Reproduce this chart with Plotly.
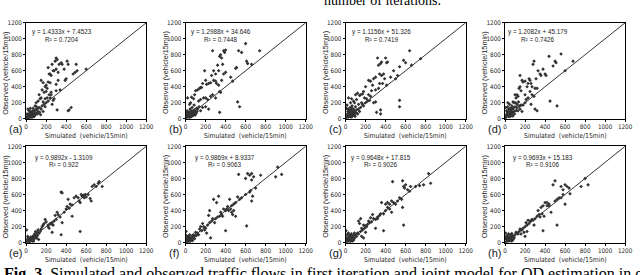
import plotly.graph_objects as go

# ---------------- data (simulated, observed) ----------------
a_pts = [(150,480),(170,450),(190,400),(200,420),(210,380),(220,640),(230,560),(240,560),(250,540),
         (260,680),(270,600),(280,600),(290,720),(300,760),(310,740),(300,620),(320,580),(330,680),
         (350,700),(360,680),(380,620),(390,480),(400,500),(410,720),(420,680),(470,560),(490,580),
         (500,680),(510,600),(600,620),(420,100),(450,140),(430,110),(250,300),(240,260),(220,220),
         (200,200),(180,180),(160,160),(260,180),(280,250),(300,350),(310,110),(270,230),(140,250),
         (120,220),(100,200),(90,160),(110,120),(130,140),(80,100),(60,80),(40,40),(20,20),(50,90),
         (30,60),(70,130),(10,10),(25,35),(15,50),(45,20),(55,45),(65,30),(75,55),(85,60),(35,15),
         (5,5),(100,70),(120,90),(150,120),(170,210),(190,250),(210,260),(230,300),(250,330),(130,300),
         (150,260),(200,340),(220,460),(240,450),(300,430),(320,480),(340,360),(180,330),(160,360),
         (12,30),(22,8),(38,70),(48,55),(58,15),(68,95),(78,25),(88,40),(95,110),(105,150),(18,120),
         (8,60),(28,100),(42,130),(62,50),(115,60),(135,80),(145,50),(170,90),(190,150)]
b_pts = [(270,850),(300,560),(280,600),(260,540),(250,450),(230,440),(210,430),(200,480),(190,600),
         (170,440),(160,390),(150,390),(140,380),(120,360),(100,350),(280,480),(300,470),(310,440),
         (330,600),(340,780),(350,800),(360,760),(380,850),(390,830),(400,860),(370,680),(320,670),
         (330,420),(340,340),(350,330),(360,480),(380,560),(400,580),(450,520),(470,470),(500,630),
         (510,640),(530,850),(560,830),(600,940),(610,720),(620,690),(660,680),(740,850),(520,210),
         (540,150),(340,80),(90,300),(80,250),(60,270),(50,200),(40,180),(20,260),(130,220),(150,240),
         (180,260),(200,260),(220,240),(250,280),(270,300),(300,260),(120,120),(150,100),(170,140),
         (200,150),(230,120),(100,80),(80,100),(60,60),(40,50),(20,30),(10,10),(30,80),(50,40),(70,90),
         (90,60),(110,130),(25,60),(45,120),(65,140),(85,170),(15,100),(35,20),(5,40),(55,70),(75,40),
         (12,20),(22,45),(38,35),(48,90),(58,25),(68,55),(78,70),(88,110),(95,45),(105,65),(8,75),
         (28,55),(42,15),(62,100),(115,90),(135,150)]
c_pts = [(320,760),(330,670),(350,690),(360,710),(400,760),(410,700),(420,710),(380,560),(360,540),
         (340,560),(300,520),(280,500),(250,470),(230,480),(200,400),(180,340),(170,310),(150,300),
         (140,290),(120,320),(100,300),(110,240),(90,200),(80,220),(60,250),(50,200),(30,260),(260,350),
         (270,420),(300,360),(330,380),(340,440),(370,440),(390,500),(410,420),(450,520),(480,600),
         (500,500),(520,540),(540,650),(580,730),(600,700),(640,850),(660,670),(750,750),(540,230),
         (540,150),(350,110),(350,60),(310,80),(200,200),(180,160),(220,220),(240,230),(250,280),
         (280,200),(300,210),(210,250),(230,300),(190,260),(160,200),(130,180),(100,150),(80,120),
         (60,100),(40,80),(20,60),(10,20),(30,30),(50,50),(70,40),(90,90),(110,110),(130,120),(120,60),
         (150,140),(170,180),(25,120),(45,140),(65,160),(15,170),(35,100),(55,20),(75,70),(95,30),(5,10),
         (12,40),(22,90),(38,60),(48,110),(58,75),(68,30),(78,95),(88,55),(8,130),(28,15),(42,45),
         (62,130),(105,75),(140,90)]
d_pts = [(150,540),(170,480),(180,460),(200,470),(220,400),(230,440),(240,500),(250,480),(260,440),
         (270,400),(280,680),(290,720),(300,380),(310,500),(320,380),(330,600),(350,560),(360,540),
         (380,620),(400,560),(410,540),(440,780),(450,220),(480,660),(500,720),(510,700),(520,160),
         (560,810),(600,600),(680,720),(150,400),(140,380),(160,350),(130,280),(120,300),(110,260),
         (100,300),(90,200),(80,210),(200,300),(210,240),(230,260),(250,340),(270,300),(290,280),
         (320,100),(300,120),(260,180),(200,200),(180,170),(160,170),(140,160),(120,180),(100,150),
         (80,120),(60,110),(40,90),(20,60),(10,20),(30,40),(50,70),(70,50),(90,90),(110,100),(25,150),
         (45,180),(65,130),(15,100),(35,120),(55,30),(75,80),(5,10),(130,100),(150,120),(170,90),
         (12,45),(22,85),(38,25),(48,130),(58,95),(68,160),(78,35),(88,140),(95,60),(105,200),(8,140),
         (28,200),(42,60),(62,75),(115,140),(135,210)]
e_pts = [(350,630),(360,620),(420,540),(440,480),(460,470),(480,560),(500,580),(520,560),(530,520),
         (540,500),(550,600),(560,580),(570,590),(580,560),(590,600),(600,570),(620,600),(640,550),
         (650,520),(660,700),(680,720),(700,700),(720,740),(730,760),(760,700),(540,140),(350,100),
         (360,250),(460,330),(340,320),(300,290),(280,270),(260,250),(240,240),(220,200),(200,260),
         (190,290),(180,240),(170,220),(160,200),(150,170),(140,140),(130,120),(120,160),(110,130),
         (100,100),(90,80),(80,90),(70,60),(60,70),(50,40),(40,50),(30,20),(20,30),(10,10),(5,160),
         (15,80),(25,60),(35,40),(45,70),(55,30),(65,50),(75,20),(85,110),(95,140),(105,60),(115,90),
         (125,40),(260,130),(250,230),(270,220),(290,340),(310,380),(320,350),(380,380),(400,420),
         (410,450),(430,430),(220,220),(230,180),(12,25),(22,50),(38,15),(48,35),(58,55),(68,80),
         (78,45),(88,65),(8,40),(28,10),(42,25),(62,20)]
f_pts = [(530,850),(600,800),(620,860),(640,840),(660,860),(680,820),(660,780),(700,680),(750,840),
         (900,820),(920,940),(960,850),(610,210),(660,520),(670,580),(650,650),(640,630),(600,600),
         (560,560),(540,540),(520,570),(500,500),(480,480),(460,460),(440,540),(420,450),(400,400),
         (380,420),(360,350),(340,330),(320,320),(300,300),(330,580),(310,500),(280,540),(240,400),
         (230,340),(400,150),(460,380),(480,400),(500,330),(260,270),(240,250),(220,220),(200,180),
         (180,200),(160,150),(140,170),(120,120),(100,130),(80,100),(60,60),(40,40),(20,20),(10,10),
         (5,140),(30,80),(50,30),(70,90),(90,50),(110,90),(130,100),(150,200),(170,240),(190,160),
         (210,120),(250,60),(270,300),(290,250),(350,380),(370,330),(410,420),(430,400),(450,420),
         (470,350),(15,50),(25,30),(35,60),(45,15),(12,20),(22,70),(38,45),(48,65),(58,40),(68,25),
         (78,60),(88,80),(8,90),(28,15),(42,100),(62,35)]
g_pts = [(470,760),(570,770),(580,700),(590,680),(600,720),(620,660),(640,640),(650,700),(700,700),
         (740,710),(780,720),(830,860),(850,740),(570,440),(580,220),(380,150),(360,500),(400,480),
         (420,500),(440,480),(460,520),(480,500),(500,480),(520,520),(540,560),(560,540),(340,340),
         (320,320),(300,290),(280,300),(260,260),(240,250),(220,230),(200,210),(180,220),(160,180),
         (140,240),(150,300),(130,270),(120,120),(100,100),(80,90),(60,60),(40,50),(20,30),(10,10),
         (5,150),(15,100),(30,70),(50,20),(70,40),(90,60),(110,80),(130,110),(150,140),(170,160),
         (190,180),(210,200),(230,270),(250,310),(270,350),(300,180),(320,300),(350,360),(380,360),
         (400,400),(420,440),(440,420),(460,380),(200,130),(180,60),(160,80),(25,40),(45,80),(65,20),
         (85,50),(12,60),(22,15),(38,95),(48,45),(58,110),(68,75),(78,30),(88,120),(8,30),(28,120),
         (42,20),(62,90)]
h_pts = [(500,770),(480,720),(560,700),(580,660),(600,720),(620,700),(640,680),(650,610),(600,480),
         (560,560),(760,700),(800,800),(830,720),(520,220),(380,150),(460,380),(440,480),(420,500),
         (400,500),(380,460),(360,440),(340,350),(320,330),(300,300),(280,280),(260,270),(240,240),
         (220,220),(200,200),(180,180),(160,160),(140,140),(120,120),(100,100),(80,80),(60,60),(40,40),
         (20,20),(10,10),(5,120),(15,80),(30,50),(50,30),(70,90),(90,70),(110,130),(130,110),(150,170),
         (170,160),(190,130),(210,250),(230,280),(250,270),(270,290),(290,220),(330,400),(350,320),
         (370,360),(390,330),(420,460),(440,460),(500,520),(520,540),(540,560),(580,600),(200,80),
         (220,140),(160,110),(25,30),(45,60),(65,20),(85,50),(35,110),(55,100),(12,45),(22,90),(38,20),
         (48,75),(58,40),(68,115),(78,35),(88,60),(8,60),(28,70),(42,35),(62,80)]

panel_labels = ["(a)", "(b)", "(c)", "(d)", "(e)", "(f)", "(g)", "(h)"]
panel_points = [a_pts, b_pts, c_pts, d_pts, e_pts, f_pts, g_pts, h_pts]
equations = ["y = 1.4333x + 7.4523", "y = 1.2988x + 34.646", "y = 1.1156x + 51.326",
             "y = 1.2082x + 45.179", "y = 0.9892x - 1.3109", "y = 0.9869x + 8.9337",
             "y = 0.9648x + 17.815", "y = 0.9693x + 15.183"]
r_squared = ["R² = 0.7204", "R² = 0.7448", "R² = 0.7419", "R² = 0.7426",
             "R² = 0.922", "R² = 0.9063", "R² = 0.9026", "R² = 0.9106"]
eq_x = [360, 350, 362, 330, 374, 398, 354, 384]
diag = [0, 1200]
tick_vals = [0, 200, 400, 600, 800, 1000, 1200]
x_title = "Simulated  (vehicle/15min)"
y_title = "Observed (vehicle/15min)"
caption_top = "number of iterations."
caption_bottom = ("<b>Fig. 3.</b> Simulated and observed traffic flows in first iteration and joint "
                  "model for OD estimation in observation")

# ---------------- layout ----------------
W, H = 640, 275
x_px = [(24.5, 146.5), (186.5, 308.5), (349, 471), (511, 633)]
y_px = [(19.3, 117.7), (146, 245)]
FONT = "Liberation Sans, Arial, sans-serif"
NARROW = "Liberation Sans Narrow, Arial Narrow, DejaVu Sans Condensed, Liberation Sans, sans-serif"
SERIF = "Liberation Serif, Times New Roman, serif"
INK = "#222222"

fig = go.Figure()
layout = dict(width=W, height=H, margin=dict(l=0, r=0, t=0, b=0),
              paper_bgcolor="white", plot_bgcolor="white", showlegend=False)
annotations = []
eq_y = [(1080, 988), (1055, 975)]

for i in range(8):
    r, c = divmod(i, 4)
    k = "" if i == 0 else str(i + 1)
    xa, ya = "x" + k, "y" + k
    x0, x1 = x_px[c]
    yt, yb = y_px[r]
    sim = [p[0] for p in panel_points[i]]
    obs = [p[1] for p in panel_points[i]]
    fig.add_trace(go.Scatter(x=diag, y=diag, mode="lines", xaxis=xa, yaxis=ya,
                             line=dict(color="black", width=0.8), hoverinfo="skip"))
    fig.add_trace(go.Scatter(x=sim, y=obs, mode="markers", xaxis=xa, yaxis=ya,
                             marker=dict(symbol="diamond", size=2.8, color="#333333")))
    common = dict(range=[0, 1200], tickvals=tick_vals, showgrid=False, zeroline=False,
                  showline=True, linecolor="black", linewidth=0.8, mirror=True,
                  ticks="outside", ticklen=2, tickcolor="black",
                  tickfont=dict(family=NARROW, size=6.3, color=INK), fixedrange=True)
    layout["xaxis" + k] = dict(common, domain=[x0 / W, x1 / W], anchor=ya)
    layout["yaxis" + k] = dict(common, domain=[1 - yb / H, 1 - yt / H], anchor=xa)
    annotations.append(dict(x=eq_x[i], y=eq_y[r][0], xref=xa, yref=ya, text=equations[i],
                            showarrow=False, font=dict(family=FONT, size=6.3, color=INK),
                            xanchor="center", yanchor="middle"))
    annotations.append(dict(x=eq_x[i], y=eq_y[r][1], xref=xa, yref=ya, text=r_squared[i],
                            showarrow=False, font=dict(family=FONT, size=6.3, color=INK),
                            xanchor="center", yanchor="middle"))
    annotations.append(dict(x=(x0 - 19) / W, y=1 - (yb + 11) / H, xref="paper", yref="paper",
                            text=panel_labels[i], showarrow=False,
                            font=dict(family=FONT, size=11, color=INK),
                            xanchor="left", yanchor="middle"))
    annotations.append(dict(x=(x0 + x1) / 2 / W, y=1 - (yb + 17.5) / H, xref="paper", yref="paper",
                            text=x_title, showarrow=False,
                            font=dict(family=NARROW, size=6.8, color=INK),
                            xanchor="center", yanchor="middle"))
    annotations.append(dict(x=(x0 - 20.5) / W, y=1 - ((yt + yb) / 2 + 2) / H, xref="paper", yref="paper",
                            text=y_title, showarrow=False, textangle=-90,
                            font=dict(family=FONT, size=7.3, color=INK),
                            xanchor="center", yanchor="middle"))

# caption fragments (cut by the image edges, as in the reference)
annotations.append(dict(x=387 / W, y=1 + 4 / H, xref="paper", yref="paper",
                        text=caption_top, showarrow=False,
                        font=dict(family=SERIF, size=14, color="black"),
                        xanchor="center", yanchor="middle"))
annotations.append(dict(x=0, y=-2.5 / H, xref="paper", yref="paper",
                        text=caption_bottom, showarrow=False,
                        font=dict(family=SERIF, size=16, color="black"),
                        xanchor="left", yanchor="middle"))

layout["annotations"] = annotations
fig.update_layout(**layout)
fig.write_html("out.html", config={"displayModeBar": False},
               post_script="document.body.style.margin='0';document.body.style.overflow='hidden';")
